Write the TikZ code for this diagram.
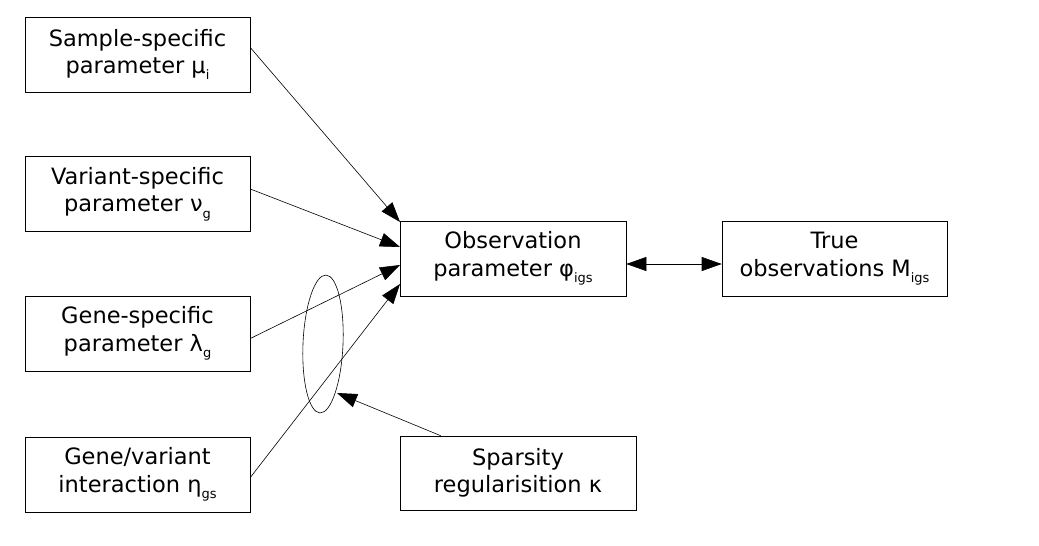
\documentclass[tikz,border=0pt]{standalone}
\usepackage{fontspec}
\setmainfont{DejaVu Sans}
\usetikzlibrary{arrows.meta,calc,shapes.geometric}
\newcommand{\sbs}[1]{\raisebox{-0.5ex}{\fontsize{13}{13}\selectfont #1}}
\begin{document}
\begin{tikzpicture}[x=1pt,y=-1pt,
  box/.style={draw,line width=0.6pt,minimum width=225pt,minimum height=75pt,align=center,inner sep=0pt,font=\fontsize{22.5}{27.5}\selectfont},
  conn/.style={line width=0.6pt,-{Triangle[length=20pt,width=14pt]}},
  dconn/.style={line width=0.6pt,{Triangle[length=20pt,width=14pt]}-{Triangle[length=20pt,width=14pt]}}]
\useasboundingbox (0,0) rectangle (1039,546);
\node[box] (sample) at (137.5,54.5) {Sample-specific\\ parameter μ\sbs{i}};
\node[box] (variant) at (137.5,194) {Variant-specific\\ parameter ν\sbs{g}};
\node[box] (gene) at (137.5,333.5) {Gene-specific\\ parameter λ\sbs{g}};
\node[box] (inter) at (137.5,474.5) {Gene/variant\\ interaction η\sbs{gs}};
\node[box,minimum width=226pt] (obs) at (513,258.5) {Observation\\ parameter φ\sbs{igs}};
\node[box] (true) at (834.5,258.5) {True\\ observations M\sbs{igs}};
\node[box,minimum width=236pt,minimum height=74pt] (spars) at (518,473) {Sparsity\\ regularisition κ};
\node[draw,line width=0.6pt,ellipse,minimum width=40pt,minimum height=138pt,inner sep=0pt,rotate=-2.5] (ell) at (323,344) {};
\coordinate (t1) at (400,222);
\coordinate (t2) at (400,247);
\coordinate (t3) at (400,265);
\coordinate (t4) at (400,284);
\coordinate (et) at (337,393);
\draw[conn] ($(sample.east)+(0,-7)$) -- (t1);
\draw[conn] ($(variant.east)+(0,-5)$) -- (t2);
\draw[conn] ($(gene.east)+(0,5)$) -- (t3);
\draw[conn] ($(inter.east)+(0,3)$) -- (t4);
\draw[conn] ($(spars.north west)+(41,0)$) -- (et);
\draw[dconn] ($(obs.east)+(0,5.5)$) -- ($(true.west)+(0,5.5)$);
\end{tikzpicture}
\end{document}
